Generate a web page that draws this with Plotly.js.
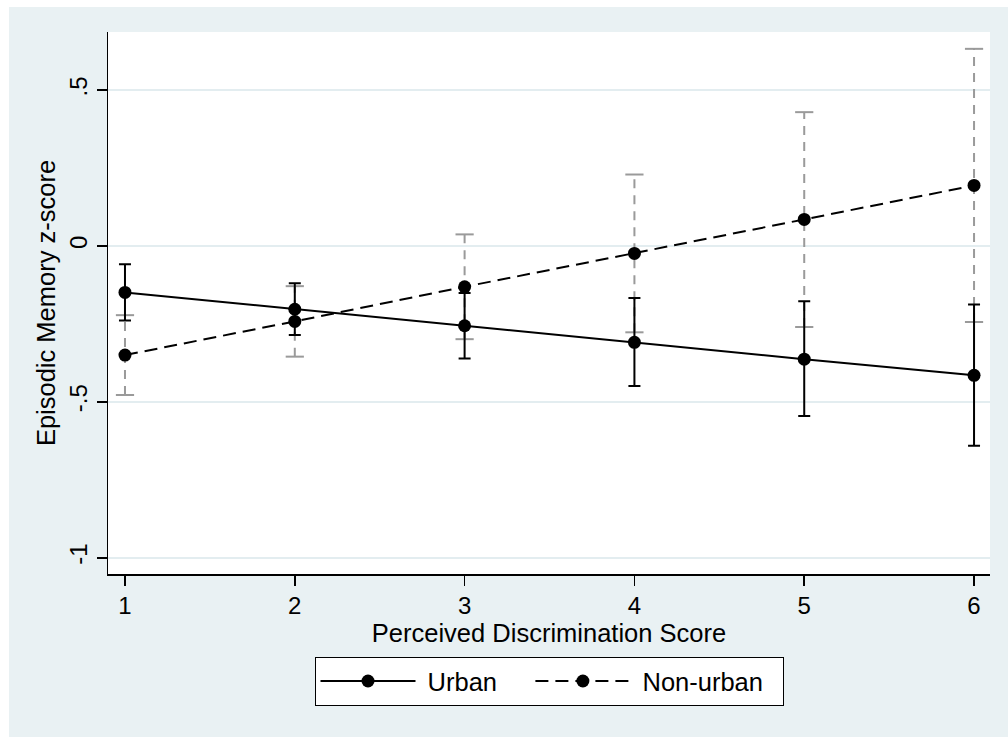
<!DOCTYPE html>
<html>
<head>
<meta charset="utf-8">
<script src="https://cdn.plot.ly/plotly-3.0.1.min.js"></script>
<style>
  html, body { margin: 0; padding: 0; background: #ffffff; }
  #chart { position: absolute; left: 9px; top: 7px; width: 999px; height: 730px; }
</style>
</head>
<body>
<div id="chart"></div>
<script>
// Perceived Discrimination Score (x) and predicted Episodic Memory z-scores
const scores = [1, 2, 3, 4, 5, 6];

const urbanMean = [-0.149, -0.203, -0.256, -0.309, -0.363, -0.415];
const urbanLow  = [-0.239, -0.286, -0.361, -0.449, -0.545, -0.641];
const urbanHigh = [-0.059, -0.120, -0.151, -0.167, -0.177, -0.188];

const nonUrbanMean = [-0.350, -0.242, -0.131, -0.024, 0.085, 0.194];
const nonUrbanLow  = [-0.478, -0.355, -0.299, -0.277, -0.260, -0.244];
const nonUrbanHigh = [-0.222, -0.129, 0.037, 0.229, 0.429, 0.632];

const seriesNames = ['Urban', 'Non-urban'];

const yTickVals = [-1, -0.5, 0, 0.5];
const yTickText = ['-1', '-.5', '0', '.5'];
const xTickVals = [1, 2, 3, 4, 5, 6];

const FONT = 'Liberation Sans, Arial, Helvetica, sans-serif';
const GRAY = '#9a9a9a';
const NB = '\u00a0';

// dashed gray confidence-interval stems for Non-urban
const stemX = [], stemY = [];
scores.forEach((s, i) => { stemX.push(s, s, null); stemY.push(nonUrbanLow[i], nonUrbanHigh[i], null); });
const capX = scores.concat(scores);
const capY = nonUrbanLow.concat(nonUrbanHigh);

const traces = [
  {
    x: stemX, y: stemY, type: 'scatter', mode: 'lines',
    line: { color: GRAY, width: 2, dash: '9px,7px' },
    showlegend: false, hoverinfo: 'skip'
  },
  {
    x: capX, y: capY, type: 'scatter', mode: 'markers',
    marker: { symbol: 'line-ew', size: 13, color: GRAY, line: { color: GRAY, width: 2 } },
    showlegend: false, hoverinfo: 'skip'
  },
  {
    x: scores, y: urbanMean, type: 'scatter', mode: 'lines+markers',
    name: NB + seriesNames[0] + NB.repeat(4),
    line: { color: '#000000', width: 2 },
    marker: { color: '#000000', size: 13 },
    error_y: {
      type: 'data', symmetric: false,
      array: urbanHigh.map((h, i) => h - urbanMean[i]),
      arrayminus: urbanMean.map((m, i) => m - urbanLow[i]),
      color: '#000000', thickness: 2, width: 6
    }
  },
  {
    x: scores, y: nonUrbanMean, type: 'scatter', mode: 'lines+markers',
    name: NB + seriesNames[1] + NB.repeat(2),
    line: { color: '#000000', width: 2, dash: '13px,7px' },
    marker: { color: '#000000', size: 13 }
  }
];

const layout = {
  width: 999, height: 730,
  paper_bgcolor: '#e9f1f3',
  plot_bgcolor: '#ffffff',
  margin: { l: 99, r: 18, t: 25, b: 163 },
  font: { family: FONT, size: 24, color: '#000000' },
  showlegend: true,
  xaxis: {
    range: [0.9, 6.094],
    tickvals: xTickVals,
    ticks: 'outside', ticklen: 10, tickwidth: 1.5, tickcolor: '#000000',
    showline: true, linecolor: '#000000', linewidth: 1.5,
    showgrid: false, zeroline: false,
    tickfont: { family: FONT, size: 24 },
    title: { text: 'Perceived Discrimination Score', font: { family: FONT, size: 25.5 }, standoff: 4 }
  },
  yaxis: {
    range: [-1.052, 0.686],
    tickvals: yTickVals, ticktext: yTickText,
    tickangle: -90,
    ticks: 'outside', ticklen: 10, tickwidth: 1.5, tickcolor: '#000000',
    showline: true, linecolor: '#000000', linewidth: 1.5,
    showgrid: true, gridcolor: '#e3edf0', gridwidth: 1.5,
    zeroline: false,
    tickfont: { family: FONT, size: 24 },
    title: { text: 'Episodic Memory z-score', font: { family: FONT, size: 25.5 }, standoff: 2 }
  },
  legend: {
    orientation: 'h',
    x: 0.5, xanchor: 'center',
    y: -0.153, yanchor: 'top',
    bgcolor: '#ffffff', bordercolor: '#000000', borderwidth: 1,
    font: { family: FONT, size: 25.5 },
    itemwidth: 95
  }
};

Plotly.newPlot('chart', traces, layout, { displayModeBar: false, staticPlot: true });
</script>
</body>
</html>
